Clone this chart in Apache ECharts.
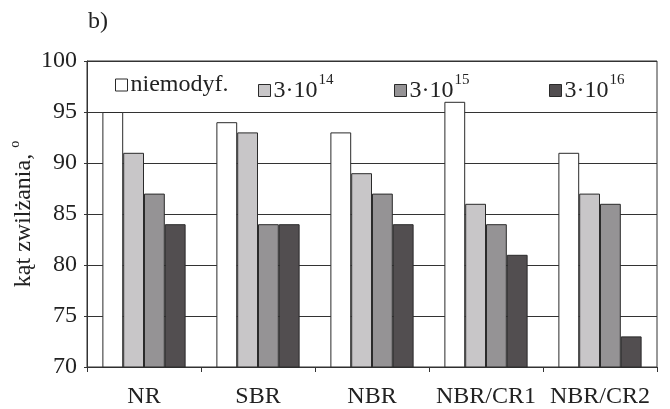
<!DOCTYPE html>
<html>
<head>
<meta charset="utf-8">
<script src="https://cdn.jsdelivr.net/npm/echarts@6/dist/echarts.min.js"></script>
<style>html,body{margin:0;padding:0;background:#fff;}#c{width:670px;height:409px;}</style>
</head>
<body>
<div id="c"></div>
<script>
var categories = ['NR', 'SBR', 'NBR', 'NBR/CR1', 'NBR/CR2'];
var seriesNames = ['niemodyf.', '3·10^14', '3·10^15', '3·10^16'];
var valuesUnmod = [95, 94, 93, 96, 91];
var values14 = [91, 93, 89, 86, 87];
var values15 = [87, 84, 87, 84, 86];
var values16 = [84, 84, 84, 81, 73];
var yTicks = [70, 75, 80, 85, 90, 95, 100];

var colors = ['#ffffff', '#c8c6c8', '#959395', '#524e50'];
var allValues = [valuesUnmod, values14, values15, values16];
var FONT = '"Liberation Serif", "Times New Roman", Times, serif';

var chart = echarts.init(document.getElementById('c'), null, {renderer: 'canvas'});

function richName(name) {
  var p = name.split('^');
  if (p.length === 1) return '{t|' + p[0] + '}';
  return '{t|' + p[0] + '}{s|' + p[1] + '}';
}
var rich = {
  t: {fontFamily: FONT, fontSize: 24, color: '#222'},
  s: {fontFamily: FONT, fontSize: 15, color: '#222', padding: [0, 0, 20, 1]}
};

var series = seriesNames.map(function (n, i) {
  return {
    name: n,
    type: 'bar',
    data: allValues[i],
    barGap: '0%',
    barCategoryGap: '27%',
    itemStyle: {color: colors[i], borderColor: '#2a2a2a', borderWidth: 1},
    emphasis: {disabled: true},
    animation: false
  };
});

var legendLeft = [110, 253, 389, 544];
var legends = seriesNames.map(function (n, i) {
  return {
    data: [n],
    left: legendLeft[i],
    top: 68,
    orient: 'horizontal',
    icon: 'rect',
    itemWidth: 12,
    itemHeight: 12,
    itemGap: 0,
    selectedMode: false,
    itemStyle: {borderColor: '#2a2a2a', borderWidth: 1},
    formatter: function (name) { return richName(name); },
    textStyle: {rich: rich, fontFamily: FONT, fontSize: 24, color: '#222', padding: [0, 0, 0, -2]}
  };
});

chart.setOption({
  backgroundColor: '#fff',
  animation: false,
  title: {
    text: 'b)',
    left: 83,
    top: 5,
    textStyle: {fontFamily: FONT, fontSize: 24, fontWeight: 'normal', color: '#222'}
  },
  legend: legends,
  grid: {
    left: 87, right: 13, top: 61, bottom: 42,
    containLabel: false,
    outerBoundsMode: 'none',
    show: true, borderColor: '#333', borderWidth: 1, backgroundColor: 'transparent'
  },
  xAxis: {
    type: 'category',
    data: categories,
    axisLine: {lineStyle: {color: '#333', width: 1}},
    axisTick: {show: true, length: 5, lineStyle: {color: '#333'}, alignWithLabel: false},
    axisLabel: {fontFamily: FONT, fontSize: 24, color: '#222', margin: 18, interval: 0}
  },
  yAxis: {
    type: 'value',
    min: yTicks[0],
    max: yTicks[yTicks.length - 1],
    interval: 5,
    name: '{a|kąt zwilżania, }{s|o}',
    nameLocation: 'middle',
    nameRotate: 90,
    nameGap: 47,
    nameMoveOverlap: false,
    nameTextStyle: {
      rich: {
        a: {fontFamily: FONT, fontSize: 24, color: '#222'},
        s: {fontFamily: FONT, fontSize: 14, color: '#222', padding: [0, 0, 18, 0]}
      }
    },
    axisLine: {show: true, lineStyle: {color: '#333', width: 1}},
    axisTick: {show: true, length: 3, lineStyle: {color: '#333'}},
    axisLabel: {fontFamily: FONT, fontSize: 24, color: '#222', margin: 10},
    splitLine: {show: true, lineStyle: {color: '#333', width: 1}}
  },
  series: series
});
</script>
</body>
</html>
